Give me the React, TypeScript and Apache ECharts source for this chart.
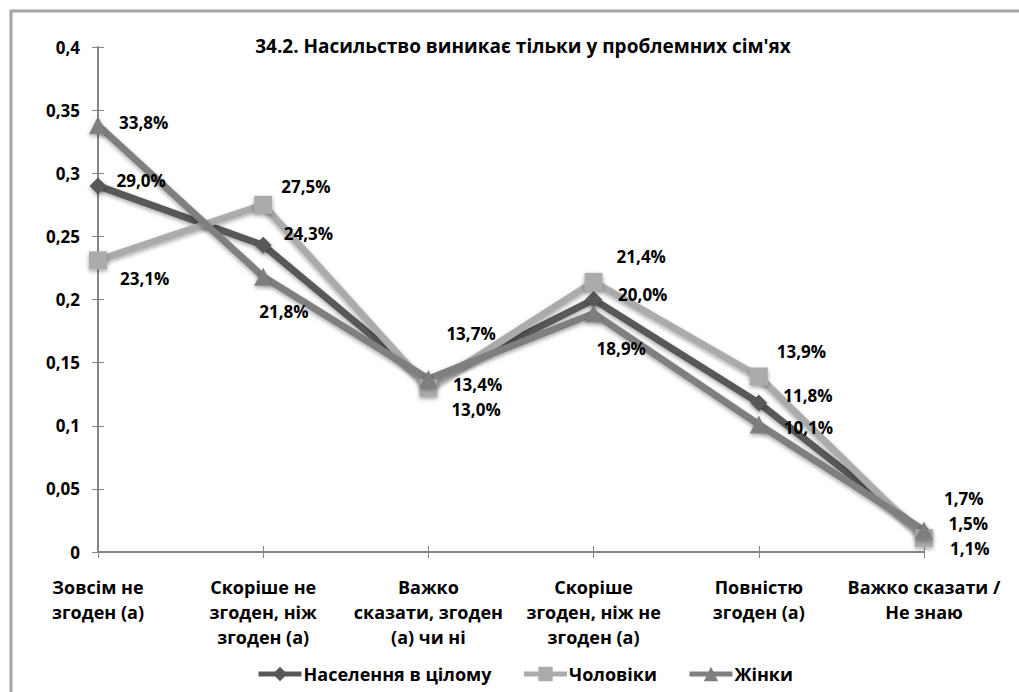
import React, { useEffect, useRef } from "react";
import * as echarts from "echarts";

const categories = [
  "Зовсім не\nзгоден (а)",
  "Скоріше не\nзгоден, ніж\nзгоден (а)",
  "Важко\nсказати, згоден\n(а) чи ні",
  "Скоріше\nзгоден, ніж не\nзгоден (а)",
  "Повністю\nзгоден (а)",
  "Важко сказати /\nНе знаю",
];

const seriesNames = ["Населення в цілому", "Чоловіки", "Жінки"];
const populationValues = [0.29, 0.243, 0.134, 0.2, 0.118, 0.015];
const menValues = [0.231, 0.275, 0.13, 0.214, 0.139, 0.011];
const womenValues = [0.338, 0.218, 0.137, 0.189, 0.101, 0.017];

const yTicks = { min: 0, max: 0.4, interval: 0.05 };

// label offsets (layout only)
const popOffsets = [[10, -5], [12, -12], [16, 2], [16, -5], [16, -8], [16, -10]];
const menOffsets = [[13, 18], [9, -18], [14, 22], [14, -25], [9, -25], [17, 10]];
const womenOffsets = [[12, -3], [-13, 35], [9, -46], [-6, 35], [16, 3], [11, -32]];

const FONT = "'Open Sans', 'DejaVu Sans', sans-serif";
const NARROW = "'Liberation Sans Narrow', 'Open Sans', sans-serif";

const fmt = (v: number) => (v * 100).toFixed(1).replace(".", ",") + "%";

function build(values: number[], offsets: number[][]) {
  return values.map((v, i) => ({
    value: v,
    label: { offset: offsets[i] },
  }));
}

export default function App() {
  const ref = useRef<HTMLDivElement>(null);
  useEffect(() => {
    document.body.style.margin = "0";
    const chart = echarts.init(ref.current!, null, { renderer: "svg" });
    const labelCommon = {
      show: true,
      position: "right" as const,
      distance: 0,
      color: "#000",
      fontFamily: FONT,
      fontWeight: "bold" as const,
      fontSize: 17,
      formatter: (p: any) => fmt(p.value),
    };
    const lineShadow = {
      shadowBlur: 4,
      shadowColor: "rgba(0,0,0,0.35)",
      shadowOffsetY: 2,
    };
    const mk = (name: string, color: string, symbol: string, size: number, vals: number[], offs: number[][]) => ({
      name,
      type: "line",
      data: build(vals, offs),
      symbol,
      symbolSize: size,
      color,
      lineStyle: { width: 7, color, ...lineShadow },
      itemStyle: { color, ...lineShadow },
      label: labelCommon,
      z: 3,
    });
    chart.setOption({
      animation: false,
      textStyle: { fontFamily: FONT },
      title: {
        text: "34.2. Насильство виникає тільки у проблемних сім'ях",
        left: 518,
        textAlign: "center",
        top: 31,
        textStyle: { fontFamily: FONT, fontWeight: "bold", fontSize: 19, color: "#000" },
      },
      graphic: [
        {
          type: "rect",
          shape: { x: 11, y: 11, width: 1100, height: 800 },
          style: { fill: "none", stroke: "#a3a3a3", lineWidth: 3 },
          silent: true,
          z: 0,
        },
      ],
      legend: {
        data: seriesNames,
        top: 660,
        left: 251,
        itemWidth: 43,
        itemHeight: 18,
        itemGap: 30,
        lineStyle: { width: 5 },
        textStyle: { fontFamily: NARROW, fontWeight: "bold", fontSize: 18, color: "#000", padding: [0, 0, 0, -3] },
      },
      grid: { left: 98, right: 95, top: 47, bottom: 140 },
      xAxis: [
        {
          type: "category",
          data: categories,
          boundaryGap: false,
          axisLine: { lineStyle: { color: "#868686", width: 2 } },
          axisTick: { show: true, length: 6, lineStyle: { color: "#868686" } },
          axisLabel: {
            interval: 0,
            margin: 22,
            fontFamily: NARROW,
            fontWeight: "bold",
            fontSize: 18,
            lineHeight: 25,
            color: "#000",
          },
        },
        {
          type: "category",
          data: categories,
          boundaryGap: false,
          position: "bottom",
          axisLine: { show: false },
          axisTick: { show: true, inside: true, length: 6, lineStyle: { color: "#868686" } },
          axisLabel: { show: false },
        },
      ],
      yAxis: [
        {
          type: "value",
          ...yTicks,
          splitLine: { show: false },
          axisLine: { show: true, lineStyle: { color: "#868686", width: 2 } },
          axisTick: { show: true, length: 6, lineStyle: { color: "#868686" } },
          axisLabel: {
            margin: 18,
            fontFamily: FONT,
            fontWeight: "bold",
            fontSize: 17,
            color: "#000",
            formatter: (v: number) => String(Math.round(v * 100) / 100).replace(".", ","),
          },
        },
        {
          type: "value",
          ...yTicks,
          position: "left",
          splitLine: { show: false },
          axisLine: { show: false },
          axisTick: { show: true, inside: true, length: 6, lineStyle: { color: "#868686" } },
          axisLabel: { show: false },
        },
      ],
      series: [
        mk(seriesNames[0], "#595959", "diamond", 17, populationValues, popOffsets),
        mk(seriesNames[1], "#ababab", "rect", 18, menValues, menOffsets),
        mk(seriesNames[2], "#7f7f7f", "triangle", 18, womenValues, womenOffsets),
      ],
    });
    return () => chart.dispose();
  }, []);
  return <div ref={ref} style={{ width: 1019, height: 692 }} />;
}
